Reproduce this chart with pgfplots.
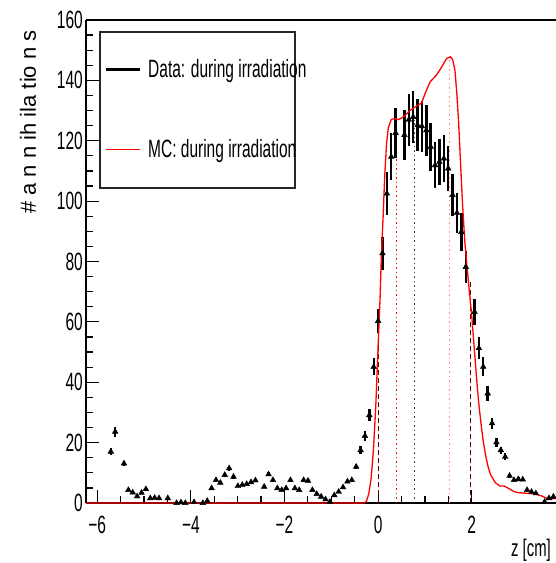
\documentclass[border=0pt]{standalone}
\usepackage{fontspec}
\setmainfont{Liberation Sans}[FakeStretch=0.62]
\newfontfamily\ylabfont{Liberation Sans}
\usepackage{graphicx}
\usepackage{pgfplots}
\pgfplotsset{compat=1.18}
\usepackage{pgfplotstable}

\definecolor{dred}{RGB}{90,0,0}
\definecolor{pinkd}{RGB}{255,140,140}
\definecolor{dgray}{RGB}{70,70,70}

\pgfplotstableread{
z y e
-5.710 17.0 1.2
-5.616 23.6 1.7
-5.429 13.1 0.9
-5.335 4.3 0.4
-5.242 3.5 0.4
-5.148 2.2 0.3
-5.054 3.4 0.3
-4.961 4.6 0.4
-4.867 1.6 0.2
-4.774 1.7 0.2
-4.680 1.6 0.2
-4.493 1.6 0.2
-4.306 0.0 0
-4.212 0.2 0
-4.118 0.0 0
-3.931 0.3 0
-3.744 0.0 0
-3.650 0.7 0.1
-3.557 4.9 0.4
-3.463 7.6 0.5
-3.370 6.7 0.5
-3.276 9.3 0.7
-3.182 11.5 0.8
-3.089 8.7 0.6
-2.995 5.6 0.4
-2.902 6.0 0.4
-2.808 6.3 0.4
-2.714 6.9 0.5
-2.621 7.5 0.5
-2.434 5.4 0.4
-2.340 9.5 0.7
-2.246 7.6 0.5
-2.153 4.9 0.4
-2.059 4.3 0.3
-1.966 4.9 0.4
-1.872 7.6 0.5
-1.778 4.9 0.4
-1.685 4.3 0.3
-1.591 7.6 0.5
-1.498 7.4 0.5
-1.404 4.3 0.3
-1.310 3.0 0.2
-1.217 2.1 0.2
-1.123 1.2 0.1
-1.030 0.4 0
-0.936 2.6 0.2
-0.842 3.7 0.3
-0.749 5.2 0.4
-0.655 7.1 0.5
-0.562 7.6 0.5
-0.468 12.0 0.9
-0.374 17.5 1.3
-0.281 22.2 1.6
-0.187 29.1 2.0
-0.094 45.1 2.8
0.000 60.3 3.9
0.094 82.7 5.5
0.187 102.5 7.0
0.281 114.7 7.8
0.374 122.6 8.3
0.562 121.9 8.3
0.655 127.0 8.6
0.749 127.9 8.6
0.842 125.2 8.5
0.936 124.8 8.5
1.030 123.5 8.4
1.123 118.0 8.0
1.217 111.9 7.6
1.310 113.0 7.7
1.404 114.1 7.8
1.498 110.8 7.5
1.591 102.0 7.0
1.685 96.1 6.6
1.778 89.8 6.2
1.872 78.2 5.4
2.059 63.3 4.4
2.153 51.3 3.6
2.246 45.1 3.1
2.340 36.3 2.6
2.434 26.4 1.9
2.527 20.1 1.4
2.621 17.5 1.2
2.714 15.3 1.1
2.808 9.0 0.7
2.902 7.6 0.5
2.995 7.9 0.6
3.089 7.8 0.6
3.182 4.3 0.3
3.276 3.7 0.3
3.370 3.2 0.2
3.557 0.4 0
3.650 1.6 0.1
3.744 2.1 0.2
}\datatab

\pgfplotstableread{
z y
-6.24 0
-0.30 0
-0.25 0.5
-0.20 3
-0.15 8
-0.10 17.5
-0.05 32
0.00 52
0.04 67
0.07 82
0.11 96
0.14 108
0.18 119
0.22 124.5
0.28 127
0.35 127.4
0.42 127
0.50 127.5
0.57 128.3
0.68 130
0.82 131.5
0.93 132.5
1.00 135.5
1.11 139.5
1.25 141.8
1.36 144.5
1.46 147.2
1.54 147.8
1.59 147
1.64 143.5
1.68 136
1.72 126
1.76 113
1.80 100
1.85 87
1.90 78
1.95 70
2.00 62
2.05 52
2.10 42
2.15 33
2.20 26
2.25 20
2.30 15.5
2.35 12
2.40 9.5
2.50 6.8
2.60 5.6
2.70 5.6
2.80 4.7
2.90 3.8
3.00 3.4
3.20 3.2
3.35 3.0
3.50 2.3
3.65 1.2
3.80 1.6
}\mctab

\begin{document}
\begin{tikzpicture}
\path[use as bounding box] (-86pt,-60pt) rectangle (470pt,503pt);
\begin{axis}[
  scale only axis, width=470pt, height=483pt,
  xmin=-6.24, xmax=3.80, ymin=0, ymax=160,
  clip=false,
  separate axis lines,
  axis x line*=bottom, axis y line*=left,
  axis line style={-, line width=1.3pt, black},
  xtick={-6,-4,-2,0,2}, xticklabels={−6,−4,−2,0,2},
  minor x tick num=3,
  ytick={0,20,40,60,80,100,120,140,160},
  yticklabels={0,20,40,60,80,100,120,140,160},
  minor y tick num=3,
  tick align=inside,
  major tick length=12.7pt, minor tick length=7pt,
  tick style={black, line width=1.2pt},
  /pgf/number format/assume math mode=true,
  tick label style={font=\fontsize{25}{25}\selectfont},
  yticklabel style={inner sep=0pt, xshift=-3pt},
  xticklabel style={inner sep=0pt, yshift=-13pt},
  xlabel={z [cm]},
  xlabel style={at={(rel axis cs:1,0)}, anchor=north east, inner sep=0pt, yshift=-35.5pt, xshift=-5pt, font=\fontsize{24}{24}\selectfont},
  ylabel={\ylabfont\fontsize{22}{22}\selectfont \# a n n ih ila tio n s},
  ylabel style={at={(axis description cs:-0.106,0.979)}, anchor=south east, inner sep=0pt},
  legend cell align=left,
  legend image code/.code={\draw[#1] (0pt,0pt) -- (34pt,0pt);},
  legend style={at={(axis description cs:0.0383,0.9192)}, anchor=north west,
    draw=none, fill=none, inner sep=0pt, row sep=61pt, column sep=7pt,
    font=\fontsize{25}{25}\selectfont, nodes={inner sep=0pt}},
]
% vertical markers
\addplot[forget plot, dred, line width=1.2pt, dash pattern=on 5pt off 3pt] coordinates {(0,0) (0,60)};
\addplot[forget plot, red, line width=1.2pt, dash pattern=on 1.5pt off 3pt] coordinates {(0.39,0) (0.39,127)};
\addplot[forget plot, dgray, line width=1.2pt, dash pattern=on 1.5pt off 3pt] coordinates {(0.77,0) (0.77,127)};
\addplot[forget plot, pinkd, line width=1.2pt, dash pattern=on 1.5pt off 3pt] coordinates {(1.52,0) (1.52,147.5)};
\addplot[forget plot, dred, line width=1.2pt, dash pattern=on 5pt off 3pt] coordinates {(1.98,0) (1.98,74)};
% data
\addplot[forget plot, only marks, black, mark=triangle*, mark size=3.3pt,
  error bars/.cd, y dir=both, y explicit,
  error bar style={line width=2.4pt, black}, error mark=none]
  table[x=z, y=y, y error=e] {\datatab};
% MC
\addplot[forget plot, red, line width=1.3pt] table[x=z, y=y] {\mctab};
% legend
\addlegendimage{black, line width=3pt}
\addlegendentry{Data: during irradiation}
\addlegendimage{red, line width=1.3pt}
\addlegendentry{MC: during irradiation}
\draw[line width=1.4pt, black!85] (axis description cs:0.0298,0.6522) rectangle (axis description cs:0.4447,0.9752);
\draw[line width=1.3pt] (rel axis cs:0,1) -- (rel axis cs:1,1);
\end{axis}
\end{tikzpicture}
\end{document}
